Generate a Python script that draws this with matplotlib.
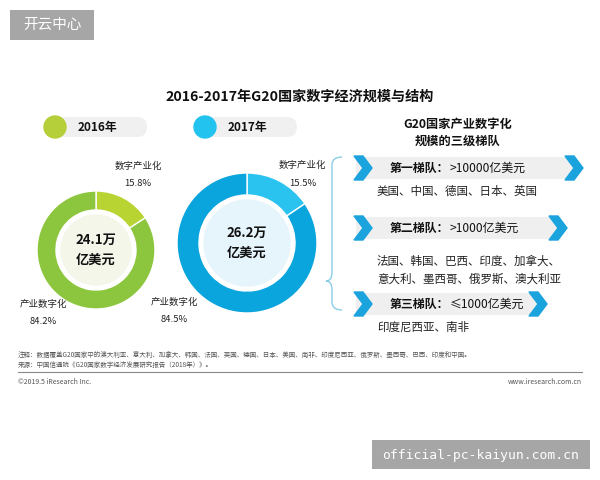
import matplotlib.pyplot as plt
from matplotlib.patches import Circle, FancyBboxPatch, Polygon, Rectangle
from matplotlib.path import Path
from matplotlib.patches import PathPatch

plt.rcParams['font.family'] = ['Noto Sans CJK SC', 'DejaVu Sans']

# data
years = ['2016年', '2017年']
totals = ['24.1万\n亿美元', '26.2万\n亿美元']
seg_names = ['数字产业化', '产业数字化']
shares_2016 = [15.8, 84.2]
shares_2017 = [15.5, 84.5]
tiers = ['第一梯队：', '第二梯队：', '第三梯队：']
tier_limits = ['>10000亿美元', '>1000亿美元', '≤1000亿美元']
tier_members = ['美国、中国、德国、日本、英国',
                '法国、韩国、巴西、印度、加拿大、\n意大利、墨西哥、俄罗斯、澳大利亚',
                '印度尼西亚、南非']

H = 480


def Y(y):
    return H - y


fig = plt.figure(figsize=(6, 4.8), dpi=100)
ax = fig.add_axes([0, 0, 1, 1])

# donuts
donuts = [
    dict(vals=shares_2016, c=(96, 250), r=59, w=19, cols=['#b8d432', '#8cc63e'], fill='#f3f6e9'),
    dict(vals=shares_2017, c=(247, 243), r=70, w=22, cols=['#2ac2ee', '#0ba5dd'], fill='#e6f5fc'),
]
for d, tot in zip(donuts, totals):
    cx, cy = d['c']
    ax.pie(d['vals'], colors=d['cols'], startangle=90, counterclock=False,
           radius=d['r'], center=(cx, Y(cy)),
           wedgeprops=dict(width=d['w'], edgecolor='white', linewidth=1))
    ax.add_patch(Circle((cx, Y(cy)), d['r'] - d['w'] - 5, color=d['fill'], zorder=1))
    ax.text(cx, Y(cy), tot, ha='center', va='center', fontsize=9.5,
            fontweight='bold', linespacing=1.5, color='#111111', zorder=3)

lbl = dict(ha='center', va='center', fontsize=6.8, color='#222222')
ax.text(138, Y(166), seg_names[0], **lbl)
ax.text(138, Y(184), f'{shares_2016[0]}%', **lbl)
ax.text(43, Y(304), seg_names[1], **lbl)
ax.text(43, Y(322), f'{shares_2016[1]}%', **lbl)
ax.text(302, Y(165), seg_names[0], **lbl)
ax.text(303, Y(183), f'{shares_2017[0]}%', **lbl)
ax.text(174, Y(302), seg_names[1], **lbl)
ax.text(174, Y(319), f'{shares_2017[1]}%', **lbl)

# legend pills
for x0, col, yr in [(55, '#b5cf3a', years[0]), (205, '#22c3ef', years[1])]:
    ax.add_patch(FancyBboxPatch((x0, Y(137)), 92, 20,
                                boxstyle='round,pad=0,rounding_size=10',
                                fc='#f0f0f0', ec='none'))
    ax.add_patch(Circle((x0, Y(127)), 11, color=col))
    ax.text(x0 + 42, Y(127), yr, ha='center', va='center', fontsize=8.5,
            fontweight='bold', color='#111111')

# title
ax.text(300, Y(97), '2016-2017年G20国家数字经济规模与结构', ha='center',
        va='center', fontsize=10.2, fontweight='bold', color='#111111')

# right panel
ax.text(458, Y(133), 'G20国家产业数字化\n规模的三级梯队', ha='center', va='center',
        fontsize=8.8, fontweight='bold', linespacing=1.4, color='#111111')

bx = 330
brace = Path([(bx + 12, Y(157)), (bx + 2, Y(157)), (bx + 2, Y(165)),
              (bx + 2, Y(272)), (bx + 2, Y(281)), (bx - 4, Y(281)),
              (bx + 2, Y(281)), (bx + 2, Y(290)), (bx + 2, Y(302)),
              (bx + 2, Y(310)), (bx + 12, Y(310))],
             [Path.MOVETO, Path.CURVE3, Path.CURVE3, Path.LINETO,
              Path.CURVE3, Path.CURVE3, Path.CURVE3, Path.CURVE3,
              Path.LINETO, Path.CURVE3, Path.CURVE3])
ax.add_patch(PathPatch(brace, fc='none', ec='#8ccbe6', lw=1))


def chevron(x, yc, w=18, h=24, tip=9, col='#1aa3dc'):
    pts = [(x, Y(yc - h / 2)), (x + w - tip, Y(yc - h / 2)), (x + w, Y(yc)),
           (x + w - tip, Y(yc + h / 2)), (x, Y(yc + h / 2)), (x + tip, Y(yc))]
    ax.add_patch(Polygon(pts, closed=True, color=col, zorder=3))


rows = [(168, 583, 191), (228, 567, 255), (304, 547, 327)]
for (yc, xr, ym), t, lim, mem in zip(rows, tiers, tier_limits, tier_members):
    ax.add_patch(Rectangle((356, Y(yc + 11)), xr - 356 - 10, 22,
                           fc='#efefef', ec='none', zorder=1))
    chevron(354, yc)
    chevron(xr - 18, yc)
    tt = ax.text(390, Y(yc), t, ha='left', va='center', fontsize=8.6,
                 fontweight='bold', color='#111111', zorder=4)
    ax.annotate(lim, xycoords=tt, xy=(1, 0.5), ha='left', va='center',
                fontsize=8.6, color='#111111', zorder=4)
    ax.text(377, Y(ym), mem, ha='left', va='top' if '\n' in mem else 'center',
            fontsize=8.3, color='#222222', linespacing=1.45)

# footnotes
ax.text(18, Y(355), '注释：数据覆盖G20国家中的澳大利亚、意大利、加拿大、韩国、法国、英国、德国、日本、美国、南非、印度尼西亚、俄罗斯、墨西哥、巴西、印度和中国。',
        ha='left', va='center', fontsize=4.7, color='#555555')
ax.text(18, Y(365), '来源：中国信通院《G20国家数字经济发展研究报告（2018年）》。',
        ha='left', va='center', fontsize=4.7, color='#555555')
ax.plot([18, 582], [Y(372), Y(372)], color='#888888', lw=0.8)
ax.text(18, Y(382), '©2019.5 iResearch Inc.', ha='left', va='center',
        fontsize=5, color='#555555')
ax.text(582, Y(382), 'www.iresearch.com.cn', ha='right', va='center',
        fontsize=5, color='#555555')

# watermarks
ax.add_patch(Rectangle((10, Y(40)), 84, 30, fc='#a6a6a6', ec='none'))
ax.text(52, Y(25), '开云中心', ha='center', va='center', fontsize=10.5, color='white')
ax.add_patch(Rectangle((372, Y(469)), 218, 29, fc='#a6a6a6', ec='none'))
ax.text(481, Y(455), 'official-pc-kaiyun.com.cn', ha='center', va='center',
        fontsize=9.4, family='DejaVu Sans Mono', color='white')

ax.set_xlim(0, 600)
ax.set_ylim(0, 480)
ax.set_aspect('auto')
ax.axis('off')
fig.savefig('out.png', dpi=100)
